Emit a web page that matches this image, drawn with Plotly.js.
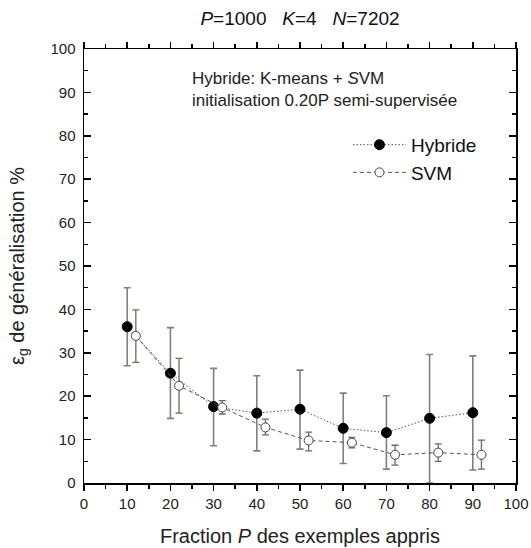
<!DOCTYPE html>
<html>
<head>
<meta charset="utf-8">
<script src="https://cdn.plot.ly/plotly-3.0.1.min.js"></script>
<style>html,body{margin:0;padding:0;background:#fff;}#chart{width:531px;height:548px;}</style>
</head>
<body>
<div id="chart"></div>
<script>
var xHybride = [10, 20, 30, 40, 50, 60, 70, 80, 90];
var hybride = [36.0, 25.3, 17.6, 16.1, 17.0, 12.6, 11.6, 14.9, 16.2];
var hybridePlus = [9.0, 10.5, 8.8, 8.6, 9.0, 8.1, 8.5, 14.7, 13.1];
var hybrideMinus = [9.0, 10.4, 9.0, 8.7, 9.2, 8.1, 8.4, 14.9, 13.2];

var xSvm = [12, 22, 32, 42, 52, 62, 72, 82, 92];
var svm = [33.9, 22.4, 17.4, 12.8, 9.8, 9.3, 6.5, 7.0, 6.5];
var svmPlus = [6.0, 6.3, 1.6, 1.9, 1.9, 1.2, 2.2, 2.0, 3.4];
var svmMinus = [6.1, 6.3, 1.5, 1.7, 2.4, 1.2, 2.4, 2.0, 3.3];

var seriesNames = ['Hybride', 'SVM'];
var tickVals = [0, 10, 20, 30, 40, 50, 60, 70, 80, 90, 100];

var font = 'Liberation Sans, Arial, Helvetica, sans-serif';

var traces = [
  {
    x: xHybride, y: hybride, name: seriesNames[0], type: 'scatter', mode: 'lines+markers',
    line: {color: '#555', width: 1, dash: '1.5px,2px'},
    marker: {symbol: 'circle', size: 10, color: '#000', line: {color: '#000', width: 1}},
    error_y: {type: 'data', symmetric: false, array: hybridePlus, arrayminus: hybrideMinus,
              color: '#808080', thickness: 1.6, width: 3.5}
  },
  {
    x: xSvm, y: svm, name: seriesNames[1], type: 'scatter', mode: 'lines+markers',
    line: {color: '#555', width: 1, dash: '4px,3px'},
    marker: {symbol: 'circle', size: 9, color: '#fff', line: {color: '#444', width: 1}},
    error_y: {type: 'data', symmetric: false, array: svmPlus, arrayminus: svmMinus,
              color: '#6b6b5e', thickness: 1.3, width: 3.5}
  }
];

var axisCommon = {
  range: [0, 100], tickvals: tickVals, showgrid: false, zeroline: false,
  showline: true, linecolor: '#000', linewidth: 1.5, mirror: 'ticks',
  tickcolor: '#000', tickwidth: 1.5, ticklen: 7,
  tickfont: {family: font, size: 15, color: '#222'}
};

var xaxis = Object.assign({}, axisCommon, {
  ticks: 'outside', ticklen: 6,
  minor: {dtick: 5, ticklen: 4, tickcolor: '#000', tickwidth: 1.5, ticks: 'outside'},
  title: {text: 'Fraction <i>P</i> des exemples appris', font: {family: font, size: 20, color: '#222'}, standoff: 18}
});
var yaxis = Object.assign({}, axisCommon, {
  ticks: 'inside',
  ticklabelstandoff: 4,
  minor: {dtick: 5, ticklen: 4, tickcolor: '#000', tickwidth: 1.5, ticks: 'inside'},
  title: {text: 'ε<sub>g</sub> de généralisation %', font: {family: font, size: 20, color: '#222'}, standoff: 20}
});

var layout = {
  width: 531, height: 548,
  margin: {l: 84, r: 15, t: 49, b: 65},
  paper_bgcolor: '#fff', plot_bgcolor: '#fff',
  title: {text: '<i>P</i>=1000\u00a0\u00a0\u00a0<i>K</i>=4\u00a0\u00a0\u00a0<i>N</i>=7202',
          font: {family: font, size: 19, color: '#111'}, x: 0.5, xref: 'paper', y: 0.967, yanchor: 'middle'},
  xaxis: xaxis, yaxis: yaxis,
  showlegend: true,
  legend: {x: 0.611, y: 0.823, xanchor: 'left', yanchor: 'top', bgcolor: 'rgba(0,0,0,0)',
           font: {family: font, size: 19, color: '#111'}, itemwidth: 53, tracegroupgap: 0},
  annotations: [{
    xref: 'paper', yref: 'paper', x: 0.245, y: 0.958, xanchor: 'left', yanchor: 'top', align: 'left',
    showarrow: false,
    text: 'Hybride: K-means + <i>S</i>VM<br>initialisation 0.20P semi-supervisée',
    font: {family: font, size: 17, color: '#222'}
  }]
};

Plotly.newPlot('chart', traces, layout, {displayModeBar: false, staticPlot: true});
</script>
</body>
</html>
